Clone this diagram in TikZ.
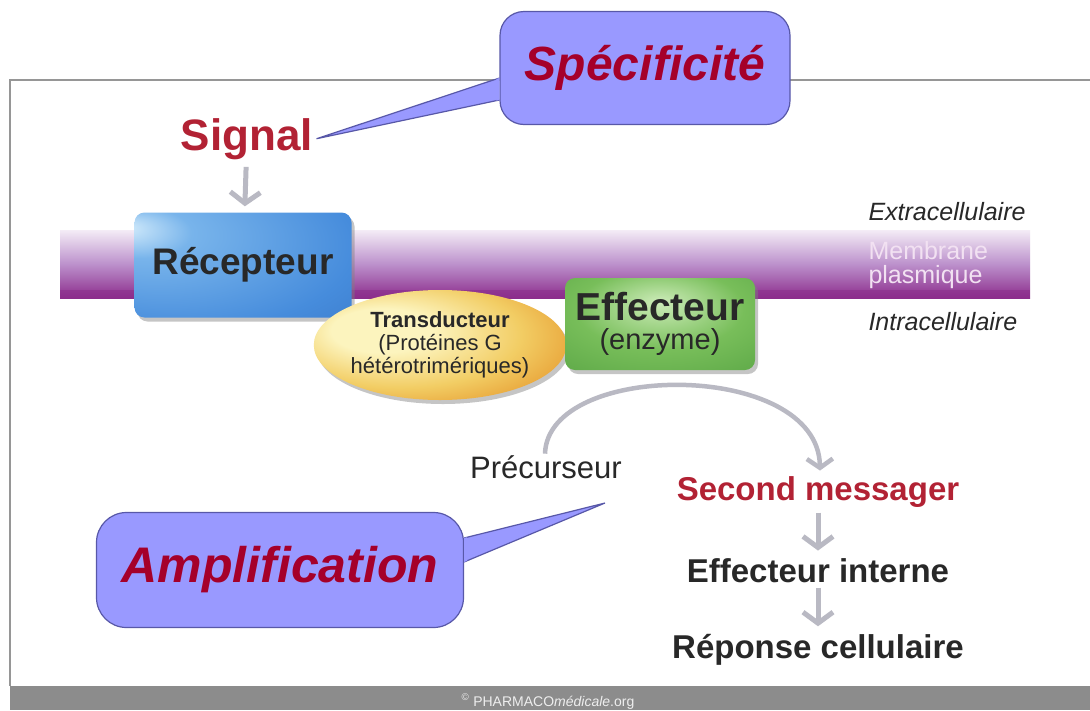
\documentclass[tikz,border=0pt]{standalone}
\usepackage{fontspec}
\setmainfont{Liberation Sans}
\usetikzlibrary{arrows.meta,shapes.geometric,shadows,positioning}

\definecolor{sigred}{RGB}{178,34,52}
\definecolor{bubfill}{RGB}{153,153,255}
\definecolor{bubdraw}{RGB}{88,88,168}
\definecolor{bubtext}{RGB}{165,0,42}
\definecolor{arrowgray}{RGB}{185,185,195}
\definecolor{memtop}{RGB}{244,236,246}
\definecolor{memmid}{RGB}{188,145,204}
\definecolor{membot}{RGB}{140,45,140}
\definecolor{memtext}{RGB}{242,225,242}
\definecolor{darktext}{RGB}{40,40,40}
\definecolor{footgray}{RGB}{140,140,140}
\definecolor{framegray}{RGB}{150,150,150}
\definecolor{recglow}{RGB}{215,238,252}
\definecolor{reclight}{RGB}{120,180,235}
\definecolor{recmid}{RGB}{70,140,220}
\definecolor{recdark}{RGB}{40,92,172}
\definecolor{effglow}{RGB}{205,236,185}
\definecolor{efflight}{RGB}{120,190,90}
\definecolor{effdark}{RGB}{55,138,45}
\definecolor{trlight}{RGB}{252,244,190}
\definecolor{trmid}{RGB}{242,205,100}
\definecolor{trdark}{RGB}{228,145,38}

\pgfdeclareradialshading{recshade}{\pgfpoint{-28bp}{18bp}}{color(0bp)=(recglow); color(12bp)=(reclight); color(40bp)=(recmid); color(80bp)=(recdark)}
\pgfdeclareradialshading{effshade}{\pgfpoint{0bp}{12bp}}{color(0bp)=(effglow); color(22bp)=(efflight); color(70bp)=(effdark)}
\pgfdeclareradialshading{transshade}{\pgfpoint{-14bp}{8bp}}{color(0bp)=(trlight); color(10bp)=(trlight); color(24bp)=(trmid); color(38bp)=(trdark); color(56bp)=(trdark)}

\tikzset{
  bubble/.style={draw=bubdraw, fill=bubfill, line width=1.2pt, rounded corners=24pt,
    text=bubtext, font=\fontsize{48}{50}\selectfont\bfseries\itshape},
  flowarrow/.style={draw=arrowgray, line width=5pt, line cap=butt,
    -{Straight Barb[length=11pt,width=30pt]}},
  flowtext/.style={text=darktext, font=\fontsize{33}{36}\selectfont\bfseries},
  sidetext/.style={text=darktext, anchor=base west, font=\fontsize{25}{27}\selectfont\itshape},
  protbox/.style={rounded corners=10pt, inner sep=0pt,
    drop shadow={opacity=0.45, shadow xshift=3pt, shadow yshift=-4pt}}
}

\begin{document}
\begin{tikzpicture}[x=1pt,y=-1pt]
  \useasboundingbox (0,0) rectangle (1090,710);
  \fill[white] (0,0) rectangle (1090,710);

  % frame and footer
  \draw[framegray, line width=2pt] (1090,80) -- (10,80) -- (10,686);
  \fill[footgray] (10,686) rectangle (1090,710);
  \node[text=white!85!footgray, anchor=base, font=\fontsize{14}{14}\selectfont] (copy) at (548,706)
    {\textsuperscript{\textcopyright} PHARMACO\textit{médicale}.org};

  % membrane
  \shade[top color=memtop, bottom color=membot, middle color=memmid] (60,230) rectangle (1030,298);
  \fill[membot, opacity=0.6] (60,290) rectangle (1030,298);
  \node[anchor=base west, align=left, text=memtext, font=\fontsize{25}{24}\selectfont] (mem) at (865,283)
    {Membrane\\plasmique};
  \node[sidetext] (extra) at (865,220) {Extracellulaire};
  \node[sidetext] (intra) at (865,330) {Intracellulaire};

  % signal and receptor
  \node[anchor=base, text=sigred, font=\fontsize{44}{46}\selectfont\bfseries] (signal) at (247,150) {Signal};
  \node[protbox, minimum width=217pt, minimum height=105pt, shading=recshade,
        text=darktext, font=\fontsize{37}{40}\selectfont\bfseries] (recep) at (243,265) {Récepteur};
  \draw[flowarrow, shorten <=4pt, shorten >=6pt] (signal) -- (recep);

  % transducer and effector
  \node[ellipse, minimum width=222pt, minimum height=110pt, inner sep=0pt, shading=transshade,
        drop shadow={opacity=0.45, shadow xshift=3pt, shadow yshift=-4pt},
        align=center, text=darktext, font=\fontsize{22}{23}\selectfont] (trans) at (440,345)
    {{\bfseries Transducteur}\\(Protéines G\\hétérotrimériques)};
  \node[protbox, minimum width=190pt, minimum height=92pt, shading=effshade,
        align=center, text=darktext, font=\fontsize{29}{29}\selectfont] (effect) at (660,324)
    {{\fontsize{39}{39}\selectfont\bfseries Effecteur}\\(enzyme)};

  % second messenger cascade
  \node[anchor=base, text=darktext, font=\fontsize{31}{33}\selectfont] (prec) at (546,478) {Précurseur};
  \node[flowtext, anchor=base, text=sigred] (second) at (818,500) {Second messager};
  \node[flowtext, anchor=base] (intern) at (818,582) {Effecteur interne};
  \node[flowtext, anchor=base] (reponse) at (818,658) {Réponse cellulaire};
  \draw[flowarrow, line width=4.5pt, -{Straight Barb[length=9pt,width=26pt]}]
    ([xshift=-1pt,yshift=-2pt]prec.north) .. controls (548,360) and (818,360) .. ([xshift=2pt,yshift=2pt]second.north);
  \draw[flowarrow, shorten <=2pt, shorten >=4pt] (second) -- (intern);
  \draw[flowarrow, shorten <=2pt, shorten >=4pt] (intern) -- (reponse);

  % callouts
  \node[bubble, minimum width=290pt, minimum height=113pt] (spec) at (645,68) {Spécificité};
  \draw[draw=bubdraw, fill=bubfill, line width=1.2pt, line join=miter]
    ([yshift=-10pt]spec.west) -- (signal.east) -- ([yshift=-32pt]spec.west);
  \begin{scope}
    \clip ([shift={(-3,-60)}]spec.west) rectangle ([shift={(4,60)}]spec.west);
    \fill[bubfill] ([yshift=-10pt]spec.west) -- (signal.east) -- ([yshift=-32pt]spec.west) -- cycle;
  \end{scope}

  \coordinate (amptip) at (605,503);
  \node[bubble, rounded corners=30pt, minimum width=367pt, minimum height=115pt,
        font=\fontsize{50}{52}\selectfont\bfseries\itshape] (amp) at (280,570) {Amplification};
  \draw[draw=bubdraw, fill=bubfill, line width=1.2pt, line join=miter]
    ([yshift=32pt]amp.east) -- (amptip) -- ([yshift=8pt]amp.east);
  \begin{scope}
    \clip ([shift={(-4,-60)}]amp.east) rectangle ([shift={(3,60)}]amp.east);
    \fill[bubfill] ([yshift=32pt]amp.east) -- (amptip) -- ([yshift=8pt]amp.east) -- cycle;
  \end{scope}
\end{tikzpicture}
\end{document}
